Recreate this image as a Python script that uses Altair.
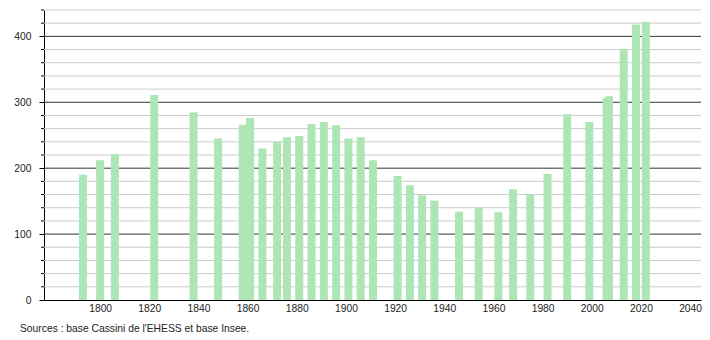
import altair as alt
import pandas as pd

years = [1793, 1800, 1806, 1822, 1838, 1848, 1858, 1861, 1866, 1872, 1876, 1881,
         1886, 1891, 1896, 1901, 1906, 1911, 1921, 1926, 1931, 1936, 1946, 1954,
         1962, 1968, 1975, 1982, 1990, 1999, 2006, 2007, 2013, 2018, 2022]
population = [190, 212, 221, 311, 285, 245, 266, 276, 230, 240, 247, 249,
              267, 270, 265, 245, 247, 212, 188, 174, 159, 151, 134, 140,
              133, 168, 160, 191, 282, 270, 306, 309, 381, 418, 422]
major_ticks = [0, 100, 200, 300, 400]
minor_ticks = [v for v in range(20, 441, 20) if v % 100 != 0]
x_ticks = [1800, 1820, 1840, 1860, 1880, 1900, 1920, 1940, 1960, 1980, 2000, 2020, 2040]
source_text = "Sources : base Cassini de l'EHESS et base Insee."

W, H = 657, 290
FONT = "Liberation Sans"
FS = 10.3

bars_df = pd.DataFrame({"year": years, "pop": population})
minor_df = pd.DataFrame({"v": minor_ticks})
major_df = pd.DataFrame({"v": [v for v in major_ticks if v > 0]})

yscale = alt.Scale(domain=[0, 440], nice=False, zero=True)
xscale = alt.Scale(domain=[1779.2, 2042.4], nice=False, zero=False)
yaxis = alt.Axis(values=major_ticks, grid=False, tickSize=5,
                 tickColor="#000000", domainColor="#000000",
                 labelFont=FONT, labelFontSize=FS, labelColor="#222222",
                 labelPadding=8, title=None)

minor_grid = alt.Chart(minor_df).mark_rule(color="#cccccc", strokeWidth=1).encode(
    y=alt.Y("v:Q", scale=yscale, axis=yaxis, title=None),
    x=alt.value(0), x2=alt.value(W),
)
major_grid = alt.Chart(major_df).mark_rule(color="#333333", strokeWidth=1).encode(
    y=alt.Y("v:Q", scale=yscale, axis=yaxis, title=None),
    x=alt.value(0), x2=alt.value(W),
)
minor_tick = alt.Chart(minor_df).mark_rule(color="#000000", strokeWidth=1).encode(
    y=alt.Y("v:Q", scale=yscale, axis=yaxis, title=None),
    x=alt.value(-3), x2=alt.value(0),
)

bars = alt.Chart(bars_df).mark_bar(color="#ade6b4", size=8).encode(
    x=alt.X("year:Q", scale=xscale, title=None,
            axis=alt.Axis(values=x_ticks, format="d", ticks=False, grid=False,
                          domainColor="#000000", labelFont=FONT, labelFontSize=FS,
                          labelColor="#222222", labelPadding=3)),
    y=alt.Y("pop:Q", scale=yscale, axis=yaxis, title=None),
)

source = alt.Chart(pd.DataFrame({"t": [source_text]})).mark_text(
    align="left", baseline="middle", font=FONT, fontSize=FS, color="#222222"
).encode(text="t:N", x=alt.value(-24), y=alt.value(H + 29))

chart = alt.layer(minor_grid, major_grid, minor_tick, bars, source).properties(
    width=W, height=H,
    autosize=alt.AutoSizeParams(type="none"),
    padding={"left": 44, "top": 10, "right": 9, "bottom": 40},
).configure_view(stroke=None)

chart.save("out.html", embed_options={"renderer": "svg", "actions": False})
